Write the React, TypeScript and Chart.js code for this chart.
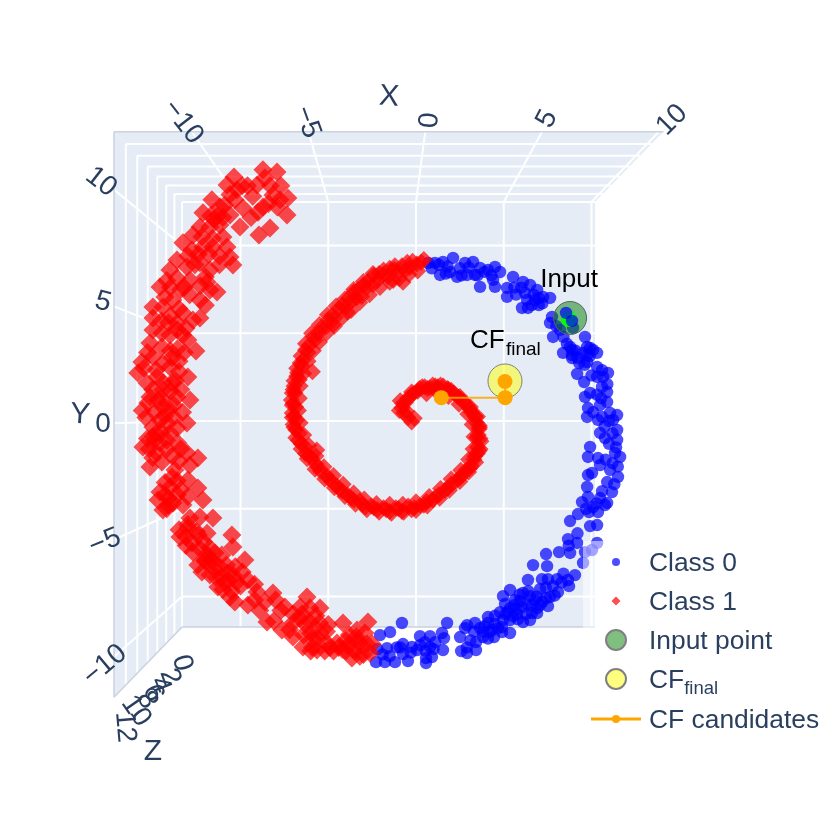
import React, { useEffect, useRef } from "react";
import { Chart, registerables } from "chart.js";

Chart.register(...registerables);

type P = [number, number];

const xTicks = [-10, -5, 0, 5, 10];
const yTicks = [10, 5, 0, -5, -10];
const zTicks = [0, 2, 4, 6, 8, 10, 12];

const class0: P[] = [
  [1.08,9.01],[1.54,9.06],[2.11,9.29],[1.37,8.32],[1.94,8.49],[2.34,8.21],[2.79,9.01],[3.25,9.06],[3.65,8.72],[4.5,8.78],
  [4.79,8.49],[4.1,8.61],[3.36,8.32],[2.91,8.32],[3.65,7.64],[4.39,8.04],[4.5,7.64],[5.53,8.21],[5.19,7.58],[5.19,7.07],
  [6.1,7.92],[6.5,7.75],[6.9,7.47],[6.21,7.3],[6.78,6.9],[6.33,6.9],[7.64,7.01],[6.04,6.44],[6.38,6.44],[7.24,7.07],
  [7.75,5.93],[7.64,5.59],[8.21,5.19],[8.95,5.3],[7.81,4.79],[9.63,4.79],[8.78,4.22],[8.38,3.88],
  [9.75,4.22],[10.09,4.05],[8.89,3.76],[9.75,3.76],[8.89,4.05],[8.89,3.59],[9.52,3.88],[9.92,4.16],[10.32,3.88],[9.75,3.36],
  [9.18,2.68],[10.32,3.08],[10.94,2.74],[10.32,2.51],[10.66,2.51],[9.58,2.22],[10.6,1.94],[10.89,1.65],[9.92,1.6],[9.63,1.37],
  [10.49,0.91],[10.89,1.08],[11.46,0.34],[9.8,0.74],[11.06,0.46],[10.6,0.23],[9.75,0.23],[10.37,0.06],[11.23,0.06],[11.46,-0.51],
  [10.49,-0.68],[10.77,-0.97],[11.46,-1.08],[9.92,-1.48],[11.63,-2.05],[11.34,-1.82],[9.8,-2.05],[10.37,-2.11],[10.49,-2.51],[11.06,-2.79],
  [11.51,-3.19],[9.8,-3.08],[10.03,-2.96],[9.75,-3.76],[10.89,-3.48],[11.17,-4.05],[10.49,-4.39],[9.8,-4.33],[9.46,-4.62],[10.89,-4.67],
  [10.09,-4.9],[10.77,-4.79],[10.37,-5.19],[9.86,-5.19],[9.23,-5.3],[8.78,-5.7],[9.92,-5.99],[10.32,-5.93],[8.66,-6.73],[9.18,-6.95],
  [8.78,-7.52],[8.15,-7.47],[7.41,-7.58],[6.67,-8.21],[7.47,-8.27],[9.63,-7.47],[10.03,-7.35],[10.32,-6.95],[9.52,-8.09],[9.06,-8.78],
  [8.66,-9.06],[8.04,-9.01],[7.52,-9.01],[7.18,-9.01],[6.38,-9.06],[8.72,-9.41],[8.09,-9.75],[7.07,-9.58],[5.36,-9.63],[4.96,-9.98],
  [6.1,-9.8],[6.78,-10.2],[7.64,-10.03],[7.52,-10.55],[7.07,-10.49],[6.04,-10.6],[5.36,-10.66],[6.61,-10.94],[4.79,-10.89],[4.1,-11.17],
  [5.36,-11.34],[4.96,-11.34],[6.1,-11.46],[6.5,-11.34],[4.1,-11.51],[3.36,-11.51],[2.91,-11.63],[1.77,-11.51],[-0.8,-11.51],[4.9,-12.03],
  [5.36,-12.08],[3.82,-12.03],[2.79,-11.8],[-1.48,-12.03],[-2.05,-12.2],[1.48,-12.08],[3.82,-12.31],[4.45,-12.31],[2.51,-12.31],[0.8,-12.26],
  [0.23,-12.26],[1.6,-12.37],[3.42,-12.6],[-0.74,-12.71],[-1.65,-12.94],[0.23,-12.77],[0.8,-12.88],[-0.23,-12.88],[1.54,-13.05],[0.06,-13.05],
  [2.57,-13.11],[2.91,-13.22],[3.42,-13.05],[-0.74,-13.28],[0.57,-13.51],[0.91,-13.45],[-0.46,-13.68],[-1.2,-13.74],[-1.77,-13.74],[-2.28,-13.74],
  [0.57,-13.79],[5.64,-10.2],[6.5,-9.98],[6.27,-11.0],[5.76,-11.0],[6.9,-10.66],[5.07,-10.43],[5.93,-10.26],[5.53,-11.12],[4.5,-11.57],
  [3.65,-11.8],[4.22,-12.03],[4.67,-11.8],[7.41,-10.09],
  [1.3,8.9],[1.8,8.8],[2.5,8.7],[3.0,8.75],[3.5,8.3],[3.9,8.5],[4.3,8.3],[1.7,8.4],[2.6,8.3],[0.9,8.7],
  [0.7,9.0],[5.6,7.6],[5.7,7.2],[6.0,7.6],[6.7,7.2],[7.0,7.0],[7.2,6.7],[6.6,6.6],[7.0,6.6],[8.0,5.4],
  [8.4,4.8],[8.6,4.4],[9.1,4.0],[9.2,3.6],[9.3,3.3],[9.6,3.2],[9.9,3.7],[10.0,2.6],[10.6,2.9],[10.9,2.1],
  [10.3,1.5],[10.55,1.3],[10.1,0.5],[11.0,0.0],[10.75,-0.3],[11.2,-0.7],[11.0,-1.3],[11.4,-1.5],[10.8,-2.2],[11.2,-2.4],
  [11.5,-2.6],[11.3,-3.6],[10.6,-4.0],[10.3,-4.7],[9.7,-5.0],[9.2,-6.4],[8.7,-7.1],[8.4,-8.7],[8.3,-9.2],[7.8,-9.4],
  [7.4,-9.5],[6.9,-10.0],[6.3,-10.4],[6.6,-10.5],[5.7,-10.7],[5.1,-11.0],[5.6,-10.5],[5.9,-9.9],[6.4,-9.7],[7.9,-9.95],
  [7.2,-10.3],[6.9,-10.95],[5.8,-11.3],[5.2,-10.9],[4.5,-11.1],[4.9,-11.75],[4.3,-11.9],[3.9,-11.7],[4.1,-12.4],[3.3,-12.0],
  [0.5,-12.6],[1.1,-12.6],[0.55,-13.1],[1.0,-13.0],[-0.3,-13.2],[-1.1,-12.9],[-1.5,-13.4],[-1.9,-13.3],[-2.2,-13.0],[-0.9,-12.9],
  [2.9,-12.9],[3.1,-12.5],
];

const class0Front: P[] = [[8.55, 6.16], [8.89, 5.7]];

const class1Inner: P[] = [
  [-0.25,-0.05],[-0.45,0.2],[-0.7,0.45],[-0.8,0.75],[-0.6,1.05],[-0.45,1.3],[-0.15,1.55],[0.1,1.7],[0.35,1.95],[0.65,1.85],
  [0.95,2.05],[1.25,1.95],[1.55,2.0],[1.85,1.8],[2.15,1.6],[2.4,1.35],[2.7,1.1],[2.95,0.85],[3.15,0.5],[3.4,0.2],
  [3.45,-0.1],[3.6,-0.45],[3.55,-0.8],[3.7,-1.15],[3.5,-1.5],[3.5,-1.85],[3.3,-2.2],[3.15,-2.55],[2.85,-2.8],[2.6,-3.1],
  [2.3,-3.4],[2.0,-3.6],[1.65,-3.95],[1.3,-4.2],[0.95,-4.5],[0.6,-4.6],[0.25,-4.8],[-0.1,-4.95],[-0.45,-4.85],[-0.8,-5.15],
  [-1.15,-4.95],[-1.5,-5.15],[-1.85,-4.95],[-2.2,-5.05],[-2.55,-4.85],[-2.9,-4.9],[-3.2,-4.55],[-3.55,-4.5],[-3.9,-4.2],[-4.2,-4.0],
  [-4.5,-3.7],[-4.8,-3.45],[-5.1,-3.1],[-5.45,-2.85],[-5.7,-2.45],[-5.95,-2.1],[-6.3,-1.85],[-6.35,-1.45],[-6.7,-1.1],[-6.65,-0.7],
  [-6.95,-0.35],[-6.8,0.05],[-7.05,0.45],[-6.85,0.8],[-7.1,1.2],[-6.9,1.6],[-6.95,2.0],[-6.65,2.35],[-6.75,2.75],[-6.5,3.15],
  [-6.4,3.5],[-6.15,3.9],[-6.1,4.3],[-5.75,4.6],[-5.55,5.0],[-5.1,5.4],[-5.0,5.75],[-4.6,5.9],[-4.4,6.4],[-4.0,6.5],
  [-3.85,7.0],[-3.4,7.0],[-3.3,7.5],[-2.8,7.6],[-2.75,7.95],[-2.2,8.0],[-2.1,8.4],[-1.6,8.2],[-1.5,8.7],[-1.0,8.5],
  [-0.8,8.85],[-0.35,8.75],[-0.2,9.1],[0.3,9.05],[0.45,9.2],[-0.74,7.9],[-3.9,6.2],[-5.9,2.8],[-5.65,-1.65],
  [-0.1,0.15],[-0.55,0.55],[-0.75,1.0],[-0.3,1.45],[0.2,1.85],[0.8,1.9],[1.4,2.05],[2.0,1.75],[2.55,1.25],[3.05,0.7],
  [3.35,0.3],[3.6,-0.25],[3.45,-0.95],[3.65,-1.6],[3.35,-2.0],[3.05,-2.7],[2.5,-3.25],[1.8,-3.85],[1.1,-4.35],[0.45,-4.8],
  [-0.25,-5.05],[-1.0,-5.0],[-1.7,-5.05],[-2.4,-4.95],[-3.05,-4.75],[-3.7,-4.4],[-4.35,-3.9],[-4.95,-3.3],[-5.6,-2.6],[-6.1,-2.0],
  [-6.55,-1.3],[-6.85,-0.5],[-6.95,0.25],[-7.0,1.0],[-7.0,1.8],[-6.8,2.55],[-6.6,3.3],[-6.3,4.05],[-5.85,4.8],[-5.4,5.3],
  [-4.8,6.0],[-4.2,6.6],[-3.6,6.9],[-3.55,7.35],[-3.0,7.75],[-2.45,7.75],[-2.4,8.3],[-1.85,8.35],[-1.25,8.65],[-0.6,8.6],
  [0.05,8.95],[-4.7,5.5],[-3.1,7.1],[-1.3,8.0],
  [-0.95,0.6],[-0.9,1.15],[-0.25,1.65],[0.5,1.95],[1.1,2.0],[1.8,1.85],[2.5,1.4],[3.1,0.8],[3.5,0.25],[3.62,-0.35],
  [3.65,-1.0],[3.6,-1.7],[3.4,-2.35],[3.0,-2.9],[2.5,-3.45],[1.9,-3.95],[1.35,-4.4],[0.65,-4.85],[0.0,-5.1],[-0.7,-5.2],
  [-1.4,-5.25],[-2.1,-5.2],[-2.8,-5.05],[-3.45,-4.75],[-4.05,-4.3],[-4.65,-3.8],[-5.2,-3.3],[-5.75,-2.75],[-6.2,-2.15],[-6.55,-1.6],
  [-6.85,-0.95],[-7.0,-0.2],[-7.05,0.2],[-7.05,0.9],[-7.05,1.6],[-6.95,2.3],[-6.8,3.0],[-6.55,3.7],[-6.3,4.4],[-5.95,5.0],
  [-5.5,5.5],[-5.05,6.05],[-4.55,6.55],[-4.05,6.95],[-3.55,7.5],[-3.0,7.95],[-2.45,8.4],[-1.85,8.6],[-1.2,8.85],[-0.5,9.05],
  [0.6,1.55],[1.2,1.65],[1.85,1.4],[2.45,0.95],[2.95,0.4],[3.2,-0.2],[3.3,-0.9],[3.25,-1.6],[3.0,-2.2],[2.55,-2.8],
  [2.0,-3.3],[1.4,-3.85],[0.75,-4.3],[0.0,-4.6],[-0.75,-4.75],[-1.5,-4.75],[-2.25,-4.7],[-2.95,-4.45],[-3.55,-4.1],[-4.15,-3.6],
  [-4.7,-3.1],[-5.25,-2.6],[-5.7,-2.0],[-6.1,-1.4],[-6.4,-0.8],[-6.6,-0.1],[-6.7,0.6],[-6.65,1.3],[-6.6,2.0],[-6.4,2.7],
  [-6.15,3.4],[-5.85,4.0],[-5.5,4.5],[-5.1,5.0],[-4.65,5.4],[-4.2,5.9],[-3.7,6.3],[-3.2,6.75],[-2.65,7.2],[-2.05,7.6],
  [-1.5,7.9],[-0.95,8.1],[-0.4,8.35],[0.1,8.55],
];

const class1Outer: P[] = [
  [-10.37,13.91],[-8.72,14.31],[-7.92,14.19],[-8.61,13.85],[-9.06,13.45],[-10.77,13.45],[-10.2,13.17],[-8.15,12.88],[-7.3,12.71],[-7.75,12.6],
  [-7.35,11.74],[-8.32,11.0],[-8.95,10.6],[-8.72,12.2],[-11.63,12.6],[-11.17,12.2],[-10.32,12.6],[-9.86,12.14],[-10.6,11.74],[-12.14,11.86],
  [-12.31,11.06],[-11.74,11.06],[-11.17,11.17],[-10.03,11.06],[-11.0,10.49],[-10.77,9.92],[-10.43,8.89],[-10.6,9.35],[-13.28,10.15],[-12.77,9.75],
  [-12.14,9.92],[-11.57,9.92],[-13.62,9.18],[-14.02,8.61],[-13.05,8.78],[-12.31,9.01],[-11.74,8.61],[-13.62,8.15],[-14.59,7.64],[-12.88,8.04],
  [-11.74,7.47],[-11.34,7.35],[-12.31,6.9],[-14.31,7.07],[-13.85,6.9],[-14.99,6.5],[-14.99,5.87],[-14.42,6.5],[-13.28,6.16],[-12.71,5.76],
  [-12.31,5.87],[-13.62,5.59],[-14.99,5.19],[-14.48,5.02],[-15.16,4.45],[-14.48,4.22],[-14.02,4.9],[-13.0,4.62],[-12.54,3.99],[-15.62,3.36],
  [-14.99,3.65],[-14.42,3.31],[-15.85,2.74],[-15.33,2.17],[-14.76,2.51],[-14.02,3.08],[-13.0,2.51],[-15.16,1.37],[-14.42,1.77],[-13.62,1.37],
  [-12.88,1.2],[-15.28,1.03],[-14.42,0.8],[-13.05,-0.11],[-14.99,-0.34],[-14.59,0.06],[-15.56,-1.48],[-15.16,-2.62],[-14.59,-1.25],[-14.02,-0.68],
  [-13.57,-1.25],[-13.05,-1.82],[-12.43,-2.11],[-14.48,-2.34],[-13.74,-2.79],[-13.0,-3.36],[-14.59,-4.05],[-14.02,-3.76],[-12.43,-3.82],[-12.14,-4.5],
  [-14.42,-5.07],[-13.85,-4.67],[-13.28,-4.79],[-12.88,-5.53],[-12.31,-5.47],[-11.57,-5.53],[-13.45,-6.61],[-13.0,-6.1],[-10.49,-6.5],[-10.43,-7.18],
  [-12.77,-6.95],[-12.71,-7.47],[-11.46,-7.52],[-9.75,-7.92],[-12.43,-8.21],[-11.74,-8.78],[-11.17,-8.32],[-10.72,-8.66],[-11.29,-9.46],[-10.2,-9.18],
  [-9.58,-9.06],[-10.6,-10.03],[-10.32,-10.32],[-9.58,-10.49],[-9.06,-9.75],[-8.61,-10.32],[-8.49,-11.46],[-7.64,-11.91],[-7.47,-10.6],[-8.15,-9.8],
  [-6.21,-10.03],[-5.47,-10.66],[-6.04,-10.66],[-6.61,-11.23],[-7.01,-12.31],[-6.44,-12.88],[-5.47,-12.08],[-5.07,-12.65],[-5.64,-13.05],[-4.5,-12.65],
  [-4.16,-11.51],[-3.36,-11.91],[-2.74,-11.46],[-3.65,-13.51],[-3.19,-12.65],[-2.62,-13.22],[-2.91,-12.08],[-12.03,-7.92],[-11.06,-7.64],[-11.74,-7.24],
  [-9.6,13.4],[-9.3,12.8],[-10.6,12.9],[-9.9,13.4],[-8.3,13.4],[-7.7,13.4],[-8.4,12.4],[-7.9,12.2],[-9.4,11.6],[-9.0,11.9],
  [-11.0,11.6],[-12.7,10.6],[-12.2,10.5],[-11.6,10.4],[-13.0,9.4],[-12.6,8.9],[-12.0,8.2],[-13.2,7.6],[-12.9,7.2],[-13.5,6.4],
  [-14.0,6.0],[-12.0,6.6],[-13.1,5.3],[-14.5,5.7],[-15.3,3.9],[-14.8,2.9],[-15.5,3.0],[-15.0,1.8],[-14.5,1.3],[-13.9,2.2],
  [-13.5,2.8],[-15.6,0.6],[-15.4,0.2],[-14.9,0.5],[-13.8,0.2],[-13.3,0.5],[-14.2,-0.1],[-15.0,-0.9],[-15.3,-1.0],[-14.8,-1.8],
  [-15.0,-2.1],[-14.2,-1.6],[-13.5,-2.3],[-13.9,-3.2],[-14.3,-3.5],[-13.6,-4.2],[-14.1,-4.4],[-13.0,-4.3],[-13.4,-3.9],[-14.2,-5.0],
  [-13.0,-5.9],[-13.5,-6.2],[-13.1,-7.1],[-12.4,-6.5],[-11.7,-7.9],[-12.2,-8.6],[-11.5,-8.4],[-11.4,-8.9],[-10.9,-9.2],[-11.0,-9.6],
  [-10.4,-8.8],[-12.0,-8.0],[-10.5,-9.7],[-9.2,-10.2],[-8.9,-10.8],[-8.0,-10.2],[-7.7,-10.8],[-8.1,-11.4],[-7.2,-11.9],[-7.0,-11.5],
  [-6.6,-10.6],[-6.4,-12.2],[-6.0,-11.5],[-5.9,-12.4],[-5.9,-12.9],[-5.2,-13.1],[-4.7,-13.1],[-4.2,-13.0],[-4.0,-12.5],[-3.4,-12.6],
  [-3.5,-13.1],[-3.0,-13.3],[-2.8,-12.7],[-2.5,-12.7],
  [-11.7,11.7],[-11.3,11.7],[-10.9,12.3],[-11.5,11.5],[-12.4,9.5],[-11.2,9.4],[-11.8,9.5],[-11.2,8.9],[-14.0,7.6],[-13.4,7.5],
  [-12.3,7.7],[-11.9,7.9],[-14.2,8.0],[-14.1,5.6],[-13.6,5.2],[-13.3,4.9],[-14.0,4.0],[-13.6,4.1],[-13.2,3.9],[-13.9,3.6],
  [-13.5,3.4],[-14.4,2.2],[-14.0,1.7],[-13.4,1.8],[-13.7,2.3],[-14.7,1.2],[-14.1,0.7],[-13.8,0.9],[-14.3,0.3],[-14.8,-0.7],
  [-14.5,-0.6],[-13.6,-0.4],[-15.2,-1.6],[-14.9,-1.1],[-14.2,-1.1],[-13.9,-2.0],[-13.4,-1.6],[-12.9,-2.5],[-14.3,-4.2],[-14.7,-4.5],
  [-14.1,-4.8],[-13.6,-3.4],[-13.1,-6.6],[-12.5,-6.3],[-12.1,-6.9],[-12.3,-7.3],[-11.9,-6.4],[-11.9,-7.6],[-11.6,-8.0],[-11.1,-8.9],
  [-10.8,-8.2],[-10.3,-8.3],[-9.9,-8.6],[-10.7,-9.1],[-10.0,-9.4],[-9.2,-9.3],[-7.0,-11.0],[-6.3,-11.6],[-6.5,-11.0],[-5.7,-11.1],
  [-5.0,-11.6],[-5.6,-12.4],[-5.1,-12.0],[-6.0,-12.1],[-5.5,-11.5],[-6.0,-13.1],[-4.9,-12.9],[-4.4,-12.9],[-3.9,-12.8],[-4.0,-13.1],
  [-3.2,-13.4],[-3.8,-12.2],[-3.4,-12.3],
];

const inputCore: P[] = [[8.72, 5.81]];
const inputPoint: P[] = [[8.78, 5.87]];
const cfFinal: P[] = [[5.07, 2.28]];
const cfCandidates: P[] = [[1.44, 1.33], [5.08, 1.33], [5.07, 2.25]];

const legendRows = ["Class 0", "Class 1", "Input point", "CF", "CF candidates"];

const toXY = (a: P[]) => a.map(([x, y]) => ({ x, y }));

const FONT = '"Liberation Sans", Arial, sans-serif';
const INK = "#2a3f5f";

// Perspective frame of the 3D scene
const vp = { x: -1.6, y: 0.37 };
const bounds = { xMin: -13.33, xMax: 10.2, yMin: -11.74, yMax: 12.48, zMax: 13.9 };
const depth = (z: number) => 1 / (1 - (0.2145 * z) / 12);

const xLabelStyle: [number, number, number][] = [[183, 122, 52], [307, 122, 70], [426, 120, 94], [547, 119, -62], [672, 120, -45]];
const yLabelStyle: [number, number, number][] = [[101, 182, 38], [103, 302, 15], [103, 424, 0], [105, 542, -22], [105, 665, -40]];
const zLabelStyle: [number, number, number][] = [[182, 663, 75], [170, 677, 70], [160, 685, 68], [153, 693, 65], [147, 700, 62], [136, 711, 55], [125, 727, 85]];

const scenePlugin = {
  id: "scene",
  beforeDatasetsDraw(chart: any) {
    const { ctx, scales } = chart;
    const pt = (x: number, y: number, z: number): [number, number] => {
      const f = depth(z);
      return [scales.x.getPixelForValue(vp.x + (x - vp.x) * f), scales.y.getPixelForValue(vp.y + (y - vp.y) * f)];
    };
    const poly = (pts: [number, number][], fill: string) => {
      ctx.beginPath();
      pts.forEach((p, i) => (i ? ctx.lineTo(p[0], p[1]) : ctx.moveTo(p[0], p[1])));
      ctx.closePath();
      ctx.fillStyle = fill;
      ctx.fill();
    };
    const line = (a: [number, number], b: [number, number], color = "#ffffff", w = 2) => {
      ctx.beginPath();
      ctx.moveTo(a[0], a[1]);
      ctx.lineTo(b[0], b[1]);
      ctx.strokeStyle = color;
      ctx.lineWidth = w;
      ctx.stroke();
    };
    const { xMin, xMax, yMin, yMax, zMax } = bounds;
    ctx.save();
    poly([pt(xMin, yMin, 0), pt(xMax, yMin, 0), pt(xMax, yMax, 0), pt(xMin, yMax, 0)], "#e5ecf6");
    poly([pt(xMin, yMax, zMax), pt(xMax, yMax, zMax), pt(xMax, yMax, 0), pt(xMin, yMax, 0)], "#e5ecf6");
    poly([pt(xMin, yMax, zMax), pt(xMin, yMax, 0), pt(xMin, yMin, 0), pt(xMin, yMin, zMax)], "#e5ecf6");

    xTicks.forEach((x) => {
      line(pt(x, yMin, 0), pt(x, yMax, 0));
      line(pt(x, yMax, 0), pt(x, yMax, zMax));
    });
    yTicks.forEach((y) => {
      line(pt(xMin, y, 0), pt(xMax, y, 0));
      line(pt(xMin, y, 0), pt(xMin, y, zMax));
    });
    zTicks.forEach((z) => {
      line(pt(xMin, yMax, z), pt(xMax, yMax, z));
      line(pt(xMin, yMax, z), pt(xMin, yMin, z));
    });
    const edge = "#c9d2de";
    line(pt(xMin, yMax, zMax), pt(xMax, yMax, zMax), edge, 1.5);
    line(pt(xMin, yMax, zMax), pt(xMin, yMin, zMax), edge, 1.5);
    line(pt(xMin, yMin, 0), pt(xMax, yMin, 0), edge, 1.5);
    line(pt(xMin, yMin, 0), pt(xMin, yMin, zMax), edge, 1.5);

    const label = (t: string, s: [number, number, number], size = 28) => {
      ctx.save();
      ctx.translate(s[0], s[1]);
      ctx.rotate((s[2] * Math.PI) / 180);
      ctx.font = `${size}px ${FONT}`;
      ctx.fillStyle = INK;
      ctx.textAlign = "center";
      ctx.textBaseline = "middle";
      ctx.fillText(t, 0, 0);
      ctx.restore();
    };
    const fmt = (v: number) => (v < 0 ? "\u2212" + Math.abs(v) : String(v));
    xTicks.forEach((v, i) => label(fmt(v), xLabelStyle[i]));
    yTicks.forEach((v, i) => label(fmt(v), yLabelStyle[i]));
    zTicks.forEach((v, i) => label(fmt(v), zLabelStyle[i]));
    label("X", [389, 97, 4], 30);
    label("Y", [80, 415, 4], 30);
    label("Z", [153, 752, 0], 30);
    ctx.restore();
  },
  afterDatasetsDraw(chart: any) {
    const { ctx, scales } = chart;
    ctx.save();
    // text annotations
    ctx.fillStyle = "#000000";
    ctx.textBaseline = "alphabetic";
    ctx.font = `26px ${FONT}`;
    ctx.textAlign = "center";
    ctx.fillText("Input", scales.x.getPixelForValue(inputPoint[0][0]) - 1, scales.y.getPixelForValue(inputPoint[0][1]) - 31);
    ctx.textAlign = "left";
    const cx = scales.x.getPixelForValue(cfFinal[0][0]);
    const cy = scales.y.getPixelForValue(cfFinal[0][1]);
    ctx.fillText("CF", cx - 35, cy - 33);
    ctx.font = `19px ${FONT}`;
    ctx.fillText("final", cx + 1, cy - 26);

    // legend box
    ctx.fillStyle = "rgba(255,255,255,0.5)";
    ctx.fillRect(583, 541, 247, 201);
    const rows = [562, 601, 640, 679, 719];
    const sx = 616;
    const dot = (y: number, r: number, fill: string, stroke?: string) => {
      ctx.beginPath();
      ctx.arc(sx, y, r, 0, Math.PI * 2);
      ctx.fillStyle = fill;
      ctx.fill();
      if (stroke) {
        ctx.strokeStyle = stroke;
        ctx.lineWidth = 2;
        ctx.stroke();
      }
    };
    dot(rows[0], 4, "rgba(0,0,255,0.7)");
    ctx.beginPath();
    ctx.moveTo(sx, rows[1] - 4.5);
    ctx.lineTo(sx + 4.5, rows[1]);
    ctx.lineTo(sx, rows[1] + 4.5);
    ctx.lineTo(sx - 4.5, rows[1]);
    ctx.closePath();
    ctx.fillStyle = "rgba(255,0,0,0.7)";
    ctx.fill();
    dot(rows[2], 10, "rgba(0,128,0,0.5)", "#808080");
    dot(rows[3], 10, "rgba(255,255,0,0.5)", "#808080");
    ctx.beginPath();
    ctx.moveTo(591, rows[4]);
    ctx.lineTo(641, rows[4]);
    ctx.strokeStyle = "#ffa500";
    ctx.lineWidth = 3;
    ctx.stroke();
    dot(rows[4], 4, "#ffa500");

    ctx.fillStyle = INK;
    ctx.textAlign = "left";
    ctx.textBaseline = "alphabetic";
    legendRows.forEach((t, i) => {
      ctx.font = `26.4px ${FONT}`;
      ctx.fillText(t, 649, rows[i] + 9);
      if (i === 3) {
        const w = ctx.measureText(t).width;
        ctx.font = `18.5px ${FONT}`;
        ctx.fillText("final", 649 + w, rows[i] + 15);
      }
    });
    ctx.restore();
  },
};

export default function App() {
  const ref = useRef<HTMLCanvasElement>(null);
  useEffect(() => {
    if (!ref.current) return;
    const unit = 17.55;
    const chart = new Chart(ref.current, {
      type: "scatter",
      data: {
        datasets: [
          {
            label: "CF candidates",
            data: toXY(cfCandidates),
            showLine: true,
            borderColor: "rgba(255,165,0,0.85)",
            borderWidth: 2,
            backgroundColor: "#ffa500",
            pointBorderWidth: 0,
            pointRadius: 7.5,
            order: 0,
          },
          {
            label: "CF final",
            data: toXY(cfFinal),
            backgroundColor: "rgba(255,255,0,0.5)",
            borderColor: "#808080",
            pointBorderWidth: 1,
            pointRadius: 17,
            order: 1,
          },
          {
            label: "Class 0 front",
            data: toXY(class0Front),
            backgroundColor: "rgba(0,0,255,0.7)",
            pointBorderWidth: 0,
            pointRadius: 6.2,
            order: 2,
          },
          {
            label: "Input core",
            data: toXY(inputCore),
            backgroundColor: "#00ff00",
            pointBorderWidth: 0,
            pointRadius: 8,
            order: 3,
          },
          {
            label: "Input point",
            data: toXY(inputPoint),
            backgroundColor: "rgba(0,128,0,0.5)",
            borderColor: "#606060",
            pointBorderWidth: 1,
            pointRadius: 16.5,
            order: 4,
          },
          {
            label: "Class 1 outer",
            data: toXY(class1Outer),
            pointStyle: "rectRot",
            backgroundColor: "rgba(255,0,0,0.7)",
            pointBorderWidth: 0,
            pointRadius: 9.5,
            order: 5,
          },
          {
            label: "Class 1 inner",
            data: toXY(class1Inner),
            pointStyle: "rectRot",
            backgroundColor: "rgba(255,0,0,0.7)",
            pointBorderWidth: 0,
            pointRadius: 8.5,
            order: 6,
          },
          {
            label: "Class 0",
            data: toXY(class0),
            backgroundColor: "rgba(0,0,255,0.7)",
            pointBorderWidth: 0,
            pointRadius: 6.2,
            order: 7,
          },
        ],
      },
      options: {
        animation: false,
        responsive: false,
        layout: { padding: 0, autoPadding: false },
        plugins: { legend: { display: false }, tooltip: { enabled: false } },
        scales: {
          x: { display: false, min: -416 / unit, max: 414 / unit },
          y: { display: false, min: -409 / unit, max: 421 / unit },
        },
      },
      plugins: [scenePlugin],
    } as any);
    return () => chart.destroy();
  }, []);
  return (
    <div style={{ position: "fixed", left: 0, top: 0, width: 830, height: 830, background: "#fff" }}>
      <canvas ref={ref} width={830} height={830} style={{ display: "block" }} />
    </div>
  );
}
